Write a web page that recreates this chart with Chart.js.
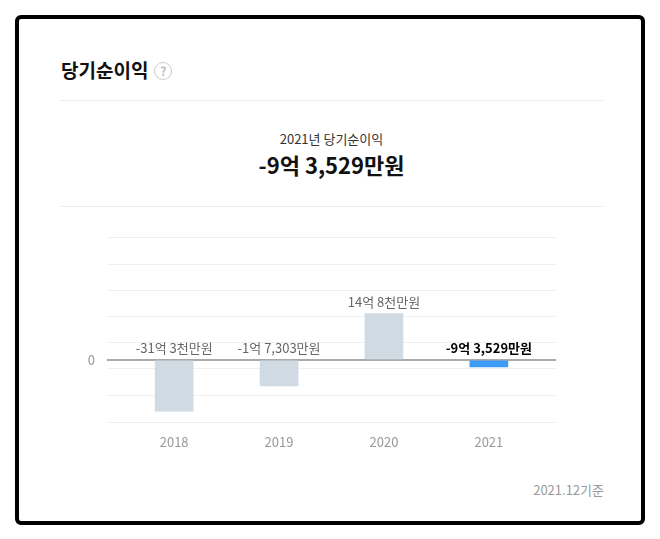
<!DOCTYPE html>
<html>
<head>
<meta charset="utf-8">
<script src="https://cdn.jsdelivr.net/npm/chart.js@4"></script>
<style>
  body { margin: 0; background: #fff; font-family: "Noto Sans CJK KR", "Noto Sans", sans-serif; }
  .frame { position: absolute; left: 15px; top: 15px; width: 622px; height: 502px; border: 4px solid #000; border-radius: 6px; }
  .title { position: absolute; left: 61px; top: 56px; font-size: 19px; font-weight: bold; color: #111; }
  .q { display: inline-block; width: 16px; height: 16px; border: 1.5px solid #ccc; border-radius: 50%; color: #bbb; font-size: 12px; text-align: center; line-height: 16px; margin-left: 6px; vertical-align: 2px; }
  .hr { position: absolute; left: 60px; width: 543px; height: 1px; background: #ebebeb; }
  .sub { position: absolute; left: 60px; width: 543px; text-align: center; }
  .base { position: absolute; right: 56px; top: 480px; font-size: 13px; color: #999; }
  #wrap { position: absolute; left: 60px; top: 218px; width: 543px; height: 236px; }
</style>
</head>
<body>
<div class="frame"></div>
<div class="title">당기순이익<span class="q">?</span></div>
<div class="hr" style="top:100px"></div>
<div class="sub" style="top:129px;font-size:13px;color:#333">2021년 당기순이익</div>
<div class="sub" style="top:148px;font-size:22px;font-weight:bold;color:#111">-9억 3,529만원</div>
<div class="hr" style="top:206px"></div>
<div id="wrap"><canvas id="chart"></canvas></div>
<div class="base">2021.12기준</div>
<script>
// years and net income (bar heights, display units)
const years = ['2018', '2019', '2020', '2021'];
const barValues = [-52, -26.3, 46.7, -7.3];
const valueLabels = ['-31억 3천만원', '-1억 7,303만원', '14억 8천만원', '-9억 3,529만원'];
const gridTicks = [123.4, 96.7, 70, 44, 18, 0, -8.6, -36, -63.3];

const barLabels = {
    id: 'barLabels',
    afterDatasetsDraw(chart) {
        const ctx = chart.ctx;
        const meta = chart.getDatasetMeta(0);
        const zeroY = chart.scales.y.getPixelForValue(0);
        ctx.save();
        ctx.textAlign = 'center';
        ctx.textBaseline = 'bottom';
        meta.data.forEach((bar, i) => {
            const last = i === years.length - 1;
            ctx.font = (last ? 'bold ' : '') + '13px "Noto Sans CJK KR"';
            ctx.fillStyle = last ? '#000' : '#666';
            const top = Math.min(bar.y, zeroY);
            ctx.fillText(valueLabels[i], bar.x, top - 5);
        });
        ctx.restore();
    }
};

new Chart(document.getElementById('chart'), {
    type: 'bar',
    data: {
        datasets: [{
            data: barValues.map((v, i) => ({ x: i, y: v })),
            backgroundColor: barValues.map((v, i) => i === years.length - 1 ? '#3e9bf5' : '#d0dae3'),
            barThickness: 38,
        }],
    },
    options: {
        responsive: true,
        maintainAspectRatio: false,
        animation: false,
        layout: { padding: { right: 47 } },
        plugins: { legend: { display: false }, tooltip: { enabled: false } },
        scales: {
            x: {
                type: 'linear',
                min: -0.64,
                max: 3.64,
                offset: false,
                afterBuildTicks: (s) => { s.ticks = years.map((y, i) => ({ value: i })); },
                grid: { display: false },
                border: { display: false },
                ticks: { color: '#999', font: { size: 13, family: 'Noto Sans CJK KR' }, padding: 4, callback: (v) => years[v] },
            },
            y: {
                min: -63.3,
                max: 123.4,
                afterBuildTicks: (s) => { s.ticks = gridTicks.map(v => ({ value: v })); },
                afterFit: (s) => { s.width = 47; },
                border: { display: false },
                grid: {
                    color: (c) => c.tick.value === 0 ? '#aaa' : '#f0f0f0',
                    lineWidth: (c) => c.tick.value === 0 ? 2 : 1,
                    drawTicks: false,
                },
                ticks: {
                    color: '#999',
                    padding: 12,
                    font: { size: 13, family: 'Noto Sans CJK KR' },
                    callback: (v) => v === 0 ? '0' : '',
                },
            },
        },
    },
    plugins: [barLabels],
});
</script>
</body>
</html>
